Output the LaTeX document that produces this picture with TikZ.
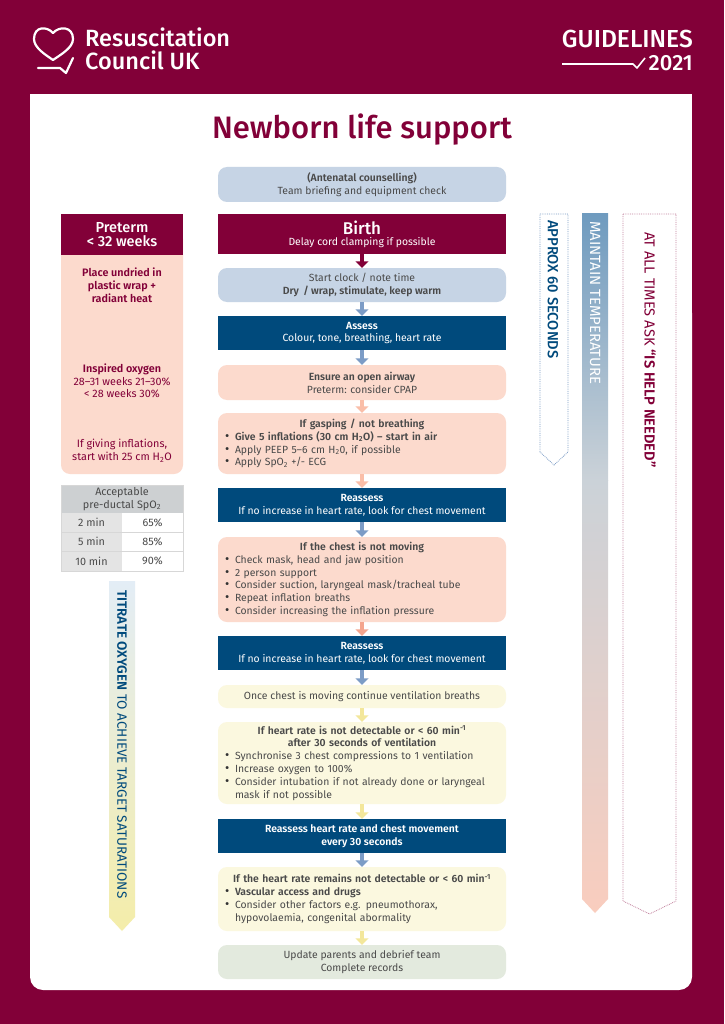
\documentclass[tikz,border=0pt]{standalone}
\usepackage{fontspec}
\setmainfont{Fira Sans}[BoldFont={Fira Sans SemiBold}]
\newfontfamily\medfont{Fira Sans Medium}
\usetikzlibrary{arrows.meta}
\definecolor{rcmaroon}{HTML}{820038}
\definecolor{rcnavy}{HTML}{004A7C}
\definecolor{rcblue}{HTML}{C6D4E5}
\definecolor{rcpeach}{HTML}{FCDACD}
\definecolor{rcyellow}{HTML}{FBF8DF}
\definecolor{rcgreen}{HTML}{E3EADE}
\definecolor{rcgrey}{HTML}{4A4A4A}
\definecolor{rcdark}{HTML}{333333}
\definecolor{rcarrowblue}{HTML}{7C9CC6}
\definecolor{rcarrowpeach}{HTML}{FABEA8}
\definecolor{rcarrowcoral}{HTML}{F4A58E}
\definecolor{rcarrowyellow}{HTML}{F3E79B}
\definecolor{rcshadetop}{HTML}{E3EDF6}
\definecolor{rcshadelow}{HTML}{F4EDA9}
\definecolor{rcsteel}{HTML}{6F9BBF}
\definecolor{rcmist}{HTML}{CBD2D8}
\definecolor{rcsalmon}{HTML}{F9CDBE}
\definecolor{rctablehead}{HTML}{CDD0D2}
\definecolor{rctablecol}{HTML}{E4E4E4}
\definecolor{rctableline}{HTML}{D7D7D7}
\newcommand{\bul}{\makebox[10pt][l]{\scalebox{1.25}{\textcolor{rcdark}{\textbullet}}}}
\newcommand{\ind}{\hspace*{10pt}}
\newcommand{\hd}[1]{\makebox[274pt][c]{\textbf{#1}}}
\newcommand{\sub}[1]{\textsubscript{#1}}

\begin{document}
\begin{tikzpicture}[x=1pt,y=-1pt]
	\tikzstyle{every node}=[font=\fontsize{10.4}{12.8}\selectfont,text=rcgrey,inner sep=0pt]
	\tikzstyle{flowbox}=[minimum width=288pt,align=center]
	\tikzstyle{softbox}=[flowbox,rounded corners=9pt]
	\tikzstyle{navybox}=[flowbox,fill=rcnavy,text=white]
	\tikzstyle{listbox}=[softbox,align=left,text width=274pt,inner xsep=7pt]
	\tikzstyle{sidebox}=[font=\fontsize{10.8}{12.8}\selectfont,align=center]
	\tikzstyle{flowarrow}=[line width=3.6pt,-{Triangle[width=13pt,length=6.5pt]}]
	\tikzstyle{logoline}=[white,line width=2.2pt,line cap=round,line join=round]
	\tikzstyle{sidetext}=[rotate=-90,anchor=west]

	\useasboundingbox (0,0) rectangle (724,1024);
	\fill[rcmaroon] (0,0) rectangle (724,1024);
	\fill[white,rounded corners=13pt] (30,300) rectangle (692,990);
	\fill[white] (30,94) rectangle (692,400);

	\draw[logoline] (53,33) .. controls (47,26) and (34,26) .. (34,39) .. controls (34,48) and (46,55) .. (53,60) .. controls (60,55) and (73,48) .. (73,39) .. controls (73,26) and (59,26) .. (53,33);
	\draw[logoline] (38,68) -- (60,68) -- (66,73) -- (73,58);
	\node[anchor=base west,text=white,font=\fontsize{23.5}{24}\medfont] (rclogoa) at (85,47) {Resuscitation};
	\node[anchor=base west,text=white,font=\fontsize{23.5}{24}\medfont] (rclogob) at (85,70) {Council UK};
	\node[anchor=base east,text=white,font=\fontsize{24.6}{25}\medfont] (guide) at (693,48) {GUIDELINES};
	\node[anchor=base east,text=white,font=\fontsize{22}{24}\medfont] (year) at (693,71) {2021};
	\draw[white,line width=1.6pt,line join=round] (562,64) -- (633,64) -- (637,68) -- (645,58);

	\node[text=rcmaroon,font=\fontsize{31}{34}\medfont] (title) at (362,130) {Newborn life support};

	\node[softbox,fill=rcblue,minimum height=35pt] (team) at (362,184.5) {\textbf{(Antenatal counselling)}\\Team briefing and equipment check};
	\node[flowbox,fill=rcmaroon,minimum height=40pt,text=white] (birth) at (362,234) {{\fontsize{17}{18}\medfont Birth}\\[-1.5pt]Delay cord clamping if possible};
	\node[softbox,fill=rcblue,minimum height=34pt] (clock) at (362,285) {Start clock / note time\\\textbf{Dry\, / wrap, stimulate, keep warm}};
	\node[navybox,minimum height=34pt] (assess) at (362,333) {\textbf{Assess}\\Colour, tone, breathing, heart rate};
	\node[softbox,fill=rcpeach,minimum height=35pt] (airway) at (362,382.5) {\textbf{Ensure an open airway}\\Preterm: consider CPAP};
	\node[listbox,fill=rcpeach,minimum height=61pt] (gasp) at (362,443.5) {\hd{If gasping / not breathing}\\\bul\textbf{Give 5 inflations (30 cm H\sub{2}O) – start in air}\\\bul Apply PEEP 5–6 cm H\sub{2}0, if possible\\\bul Apply SpO\sub{2} +/- ECG};
	\node[navybox,minimum height=34pt] (reassa) at (362,505) {\textbf{Reassess}\\If no increase in heart rate, look for chest movement};
	\node[listbox,fill=rcpeach,minimum height=85pt] (chest) at (362,579.5) {\hd{If the chest is not moving}\\\bul Check mask, head and jaw position\\\bul 2 person support\\\bul Consider suction, laryngeal mask/tracheal tube\\\bul Repeat inflation breaths\\\bul Consider increasing the inflation pressure};
	\node[navybox,minimum height=34pt] (reassb) at (362,653) {\textbf{Reassess}\\If no increase in heart rate, look for chest movement};
	\node[softbox,fill=rcyellow,minimum height=23pt] (once) at (362,696.5) {Once chest is moving continue ventilation breaths};
	\node[listbox,fill=rcyellow,minimum height=82pt] (rate) at (362,763) {\hd{If heart rate is not detectable or < 60 min\textsuperscript{-1}}\\\hd{after 30 seconds of ventilation}\\\bul Synchronise 3 chest compressions to 1 ventilation\\\bul Increase oxygen to 100\%\\\bul Consider intubation if not already done or laryngeal\\\ind mask if not possible};
	\node[navybox,minimum height=34pt] (reassc) at (362,836) {\textbf{Reassess heart rate and chest movement}\\\textbf{every 30 seconds}};
	\node[listbox,fill=rcyellow,minimum height=64pt] (remain) at (362,899) {\hd{If the heart rate remains not detectable or < 60 min\textsuperscript{-1}}\\\bul\textbf{Vascular access and drugs}\\\bul Consider other factors e.g. pneumothorax,\\\ind hypovolaemia, congenital abormality};
	\node[softbox,fill=rcgreen,minimum height=34pt] (update) at (362,962) {Update parents and debrief team\\Complete records};

	\draw[flowarrow,rcmaroon] (birth) -- (clock);
	\draw[flowarrow,rcarrowblue] (clock) -- (assess);
	\draw[flowarrow,rcarrowblue] (assess) -- (airway);
	\draw[flowarrow,rcarrowpeach] (airway) -- (gasp);
	\draw[flowarrow,rcarrowpeach] (gasp) -- (reassa);
	\draw[flowarrow,rcarrowblue] (reassa) -- (chest);
	\draw[flowarrow,rcarrowcoral] (chest) -- (reassb);
	\draw[flowarrow,rcarrowblue] (reassb) -- (once);
	\draw[flowarrow,rcarrowyellow] (once) -- (rate);
	\draw[flowarrow,rcarrowyellow] (rate) -- (reassc);
	\draw[flowarrow,rcarrowblue] (reassc) -- (remain);
	\draw[flowarrow,rcarrowyellow] (remain) -- (update);

	\fill[rcpeach,rounded corners=9pt] (61,230) rectangle (183,474);
	\node[fill=rcmaroon,minimum width=122pt,minimum height=40pt,text=white,align=center,font=\fontsize{14.5}{14.5}\medfont] (preterm) at (122,234.5) {Preterm\\< 32 weeks};
	\node[sidebox,text=rcmaroon] (place) at (122,285) {\textbf{Place undried in}\\\textbf{plastic wrap +}\\\textbf{radiant heat}};
	\node[sidebox,text=rcmaroon] (oxy) at (122,381) {\textbf{Inspired oxygen}\\28–31 weeks 21–30\%\\< 28 weeks 30\%};
	\node[sidebox,text=rcmaroon] (inflate) at (122,451) {If giving inflations,\\start with 25 cm H\sub{2}O};

	\fill[rctablehead] (61,485) rectangle (183,513);
	\fill[rctablecol] (61,513) rectangle (122,571);
	\draw[rctableline,line width=0.8pt] (61,485) rectangle (183,571) (61,532) -- (183,532) (61,551) -- (183,551);
	\node[sidebox] (spo) at (122,499) {Acceptable\\pre-ductal SpO\sub{2}};
	\node[sidebox] (twomin) at (91.5,522.5) {2 min};
	\node[sidebox] (fivemin) at (91.5,541.5) {5 min};
	\node[sidebox] (tenmin) at (91.5,561) {10 min};
	\node[sidebox] (sixfive) at (152.5,522.5) {65\%};
	\node[sidebox] (eightfive) at (152.5,541.5) {85\%};
	\node[sidebox] (ninety) at (152.5,561) {90\%};

	\shade[top color=rcshadetop,bottom color=rcshadelow] (109,581) -- (135,581) -- (135,917) -- (122,931) -- (109,917) -- cycle;
	\node[sidetext,text=rcnavy,font=\fontsize{13.5}{14}\selectfont] (titrate) at (122,590) {\textbf{TITRATE OXYGEN} TO ACHIEVE TARGET SATURATIONS};

	\draw[rcarrowblue,densely dotted,line width=0.8pt] (540,214) -- (568,214) -- (568,452) -- (554,465) -- (540,452) -- cycle;
	\node[sidetext,text=rcnavy,font=\fontsize{14.7}{15}\medfont] (approx) at (553,220) {APPROX 60 SECONDS};

	\shade[top color=rcsteel,bottom color=rcmist] (582,214) rectangle (608,480.5);
	\shade[top color=rcmist,bottom color=rcsalmon] (582,480) -- (608,480) -- (608,899) -- (595,913) -- (582,899) -- cycle;
	\node[sidetext,text=white,font=\fontsize{14.8}{15}\selectfont] (temp) at (595,221) {MAINTAIN TEMPERATURE};

	\draw[rcmaroon!50,densely dotted,line width=0.8pt] (623,214) -- (676,214) -- (676,901) -- (649.5,914) -- (623,901) -- cycle;
	\node[sidetext,text=rcmaroon,font=\fontsize{14.6}{15}\selectfont] (help) at (650,232) {AT ALL TIMES ASK \textbf{“IS HELP NEEDED”}};
\end{tikzpicture}
\end{document}
